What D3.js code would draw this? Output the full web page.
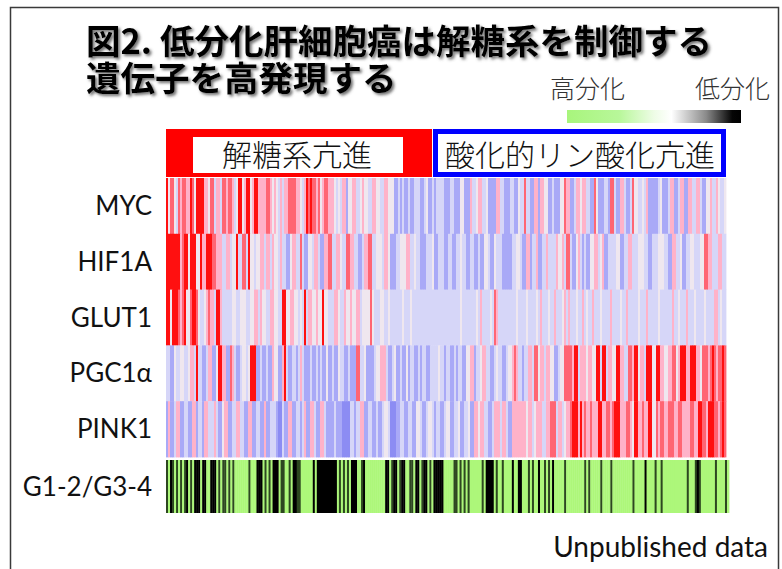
<!DOCTYPE html>
<html><head><meta charset="utf-8">
<script src="https://cdn.jsdelivr.net/npm/d3@7/dist/d3.min.js"></script>
<style>html,body{margin:0;padding:0;background:#fff;}svg{display:block;}</style>
</head><body>
<script>
// ---------- data ----------
const titleLines = ["図2. 低分化肝細胞癌は解糖系を制御する", "遺伝子を高発現する"];
const legendLabels = ["高分化", "低分化"];
const groupLabels = ["解糖系亢進", "酸化的リン酸化亢進"];
const genes = ["MYC", "HIF1A", "GLUT1", "PGC1α", "PINK1"];
const gradeLabel = "G1-2/G3-4";
const note = "Unpublished data";
// expression levels (-3 strong low ... 3 strong high), one per sample column
const MYC = [3,0,2,2,0,-1,2,1,2,2, 1,1,3,2,0,3,3,3,3,1, 1,0,2,2,-1,1,1,-1,2,2, 1,2,2,1,-1,0,3,3,0,1,
 3,3,0,1,3,3,1,1,1,1, 2,2,1,0,1,0,-1,1,-1,1, 1,2,2,2,2,1,1,0,-1,1, 3,2,3,2,2,1,2,0,1,2,
 2,1,1,1,0,-1,0,-1,1,1, -2,0,0,1,1,-1,-1,0,1,0, 0,-1,-1,1,1,0,0,-1,-1,1, 1,0,0,0,-2,-2,-1,-2,-1,-2,
 -2,-1,-2,-2,-1,-1,-1,-2,-2,-1, 0,-2,-2,-1,-2,-1,-1,-1,-1,-2, -2,-2,-1,-1,-2,-2,-2,0,0,-2, -2,-2,1,-1,-1,0,1,1,-1,-1,
 0,-2,-2,-2,-2,1,1,-1,-1,-2, -2,-2,-1,-1,-2,-2,0,-1,-1,2, -1,-1,-2,-2,1,1,-2,1,1,0, 0,-2,-2,-1,-2,-2,-2,0,0,2,
 1,1,-2,-2,-1,1,1,0,1,1, -1,-1,-2,-2,2,0,-2,-2,-2,-1, -1,-2,2,2,-1,-2,-2,1,1,-1, -2,-2,-1,2,0,0,-1,-1,0,-1,
 1,-2,-2,-2,-2,-2,-1,0,-2,-2, -2,-1,1,1,-2,-2,-1,1,1,-2, -2,1,1,-1,-1,1,1,-1,-2,-2, 0,0,1,-1,-1,1,0,-1,-1,0];
const HIF1A = [3,3,3,3,3,3,3,1,2,3, 3,0,3,3,3,0,0,3,1,1, 3,3,3,2,2,1,1,1,-1,-1, 1,1,-1,0,0,3,-1,-1,2,2,
 -1,3,0,0,-1,0,0,1,1,-1, 1,1,-1,1,0,0,-1,1,-1,-1, -2,-2,0,1,1,-1,-1,2,-1,-2, -2,0,0,-1,1,1,-1,-2,-2,1,
 1,2,2,-1,-1,1,1,0,-1,-1, 2,2,1,1,-1,-1,-2,-2,-1,1, 1,2,2,-1,-1,0,0,0,-1,1, 1,0,-2,-2,-2,-1,-1,0,0,0,
 1,1,-1,-1,0,-1,-1,-2,-2,-2, -1,-1,-1,0,-2,-2,-1,-1,-1,-2, -2,-1,-1,-2,-2,-1,-1,0,-1,-1, -2,-2,-1,-1,-2,-2,-1,-2,-2,0,
 0,-1,-2,-2,0,-1,-1,-1,-2,-2, -2,-2,-2,-1,-1,0,0,-1,-2,-2, 1,1,-2,-1,-1,1,-2,-2,-1,-1, 1,-1,-1,-1,-1,1,0,0,1,-1,
 2,2,-1,-2,-2,0,1,-1,-2,-1, -2,-2,0,0,1,1,-1,0,1,-2, -2,-1,-1,-1,-1,0,0,-2,-2,-1, -1,1,1,-1,-1,-1,0,0,0,-1,
 -1,-2,-2,-1,-1,-1,0,0,0,-1, -1,-2,-2,1,1,-1,-1,0,-2,-2, -1,-1,0,0,-1,-1,-1,0,0,2, 2,1,1,-1,-1,-1,1,1,-1,-1];
const GLUT1 = [3,3,0,3,3,3,2,1,2,3, 0,0,2,3,3,2,0,-1,-1,0, 1,2,1,1,-1,3,3,1,-1,-1, -1,-1,-1,0,0,-1,-1,0,0,0,
 -1,-1,0,0,1,1,-1,1,0,0, -1,-1,1,1,0,0,-1,-1,3,3, 0,0,1,1,0,0,-1,0,-1,3, -1,1,1,0,0,1,0,0,3,0,
 0,-1,-1,-1,1,1,0,-1,-1,1, 0,0,1,0,0,1,1,-1,0,0, 0,0,2,0,-1,-1,-1,0,0,-1, -1,0,-1,-1,-1,-1,-1,-1,0,-1,
 -1,-1,0,-1,-1,-1,-1,-1,-1,-1, -1,-1,-1,-1,-1,-1,-1,-1,-1,-1, -1,-1,-1,-1,-1,-1,-1,0,-1,-1, -1,-1,-1,-1,-1,0,-1,1,-1,-1,
 -1,-1,0,-1,2,1,-1,-1,-1,-1, -1,-1,-1,-1,-1,0,-1,-1,-1,-1, 0,-1,-1,-1,-1,0,-1,1,-1,-1, -1,0,-1,-1,1,-1,-1,-1,0,1,
 -1,1,-1,-1,-1,0,-1,-1,1,-1, 0,-1,-1,1,-1,-1,-1,0,-1,-1, -1,-1,1,-1,-1,-1,-1,0,-1,-1, 1,-1,-1,-1,-1,-1,0,-1,-1,-1,
 1,-1,-1,-1,-1,-1,0,-1,-1,-1, -1,-1,-1,1,-1,-1,0,-1,-1,-1, 1,-1,-1,-1,0,-1,-1,-1,-1,0, -1,-1,-1,-1,1,1,-1,0,-1,-1];
const PGC1A = [-1,-1,-2,-2,0,-1,-1,0,0,-1, -1,0,1,1,-1,3,-1,-1,-2,-2, -1,1,1,-2,-2,0,3,3,1,1, -2,-2,2,1,-1,-2,-2,-1,0,0,
 -1,0,3,3,3,-2,-2,-1,-2,-2, -1,-2,-2,1,0,0,-2,-2,1,3, -1,-2,-2,-1,-1,-2,-1,1,-1,-2, -2,-2,-1,-2,-2,-1,-2,-1,-2,-2,
 0,-2,-2,-1,-2,-2,0,-1,-1,-2, -2,-1,-2,-2,-2,2,2,-1,-1,0, -2,-2,-2,-2,-1,0,0,1,1,1, -1,-2,-2,-1,0,-2,-2,-1,-2,-2,
 0,-2,-1,-1,-2,-2,-1,-2,-1,-1, -2,-2,-1,-1,-1,-1,0,-1,-1,-2, -1,-1,-2,-2,-1,-2,-1,-1,-2,-2, 0,0,1,1,-2,-1,-1,0,1,1,
 -1,-1,-2,-2,-1,0,-1,-1,-2,-2, -1,0,0,1,2,1,-1,-1,-2,-1, -1,1,1,-1,2,2,0,1,1,-1, 1,1,0,0,-2,-2,-1,0,0,2,
 2,2,2,1,3,3,-1,1,1,1, 0,1,1,0,0,3,3,-1,3,3, -1,1,1,0,0,3,3,1,1,-1, -1,2,2,1,3,3,0,1,1,-1,
 3,3,3,0,0,3,3,1,1,0, 0,1,1,2,2,0,1,3,3,3, 1,1,3,3,3,1,1,0,2,2, 2,1,2,3,2,1,2,2,3,2];
const PINK1 = [-2,1,-2,-2,-1,1,1,-2,-2,-1, -1,-2,-2,1,1,-2,-1,-1,-2,1, 1,-1,-1,-1,1,-1,-2,-2,0,1, 1,-2,-2,-1,-1,1,1,-1,-1,-2,
 -2,1,1,-2,-2,-1,-1,-2,-2,1, -2,-2,-1,-1,-1,-2,-3,-3,-1,-2, -2,1,1,-2,-2,-1,-1,-2,-1,1, -2,-2,1,1,-1,-2,-2,1,1,-1,
 -2,-2,-2,-2,-1,-2,-2,-2,-3,-3, -3,-3,-1,-1,-2,-1,-1,1,1,-2, -2,-1,-1,-2,-2,-1,-2,-2,-1,0, 0,-1,-3,-3,-3,-2,-2,-1,-1,-2,
 -2,-1,-1,-2,-2,0,0,-1,-2,-2, -1,0,0,-1,-2,-1,-1,-2,-2,-1, 0,0,-2,-2,-1,-1,0,-2,-2,-1, -1,0,-2,-2,1,1,0,1,1,-1,
 -1,-2,-2,-1,1,1,1,-1,1,1, -1,-2,-2,1,1,1,1,1,1,1, 0,1,1,-1,0,1,1,1,-1,-1, 1,1,2,2,2,-1,1,1,-1,0,
 1,1,2,3,3,3,1,3,1,2, 1,1,2,1,1,1,3,3,1,1, 2,2,1,2,3,3,3,1,1,1, 2,2,1,0,3,3,1,1,2,1,
 1,3,3,0,0,2,1,2,2,1, 1,2,2,2,1,1,2,2,1,1, 1,1,2,2,1,1,3,3,2,2, 1,3,3,3,2,2,1,2,3,2];
// tumour grade per sample: 0 = G1-2, 1 = G3-4, 2 = G3-4 (narrow)
const GRADE = [2,0,1,2,0,2,0,2,0,2, 1,0,2,0,1,1,1,0,1,1, 0,0,1,1,1,0,2,0,2,2, 0,2,0,2,0,0,0,0,0,0,
 0,2,0,0,0,1,1,1,0,2, 0,2,0,1,1,1,0,2,2,0, 0,2,0,1,1,2,2,0,0,0, 0,0,0,1,0,1,1,1,1,1,
 1,1,1,1,1,0,2,0,2,0, 2,0,1,1,1,0,0,2,1,0, 0,0,0,0,0,0,0,0,0,1, 1,0,2,1,1,0,2,1,1,0,
 0,2,2,0,1,1,0,2,1,1, 0,2,0,1,1,1,1,1,0,0, 0,0,0,2,2,0,2,0,2,0, 2,0,0,0,0,0,0,2,0,1,
 1,1,1,0,2,0,0,2,0,0, 0,0,1,0,0,1,1,0,0,0, 2,0,2,0,0,1,0,0,2,0, 2,0,1,0,0,0,0,0,2,0,
 0,0,0,0,0,0,0,0,2,0, 2,0,0,0,0,0,2,0,0,0, 0,2,0,0,0,0,0,0,0,0, 0,0,2,0,0,0,0,0,1,0,
 0,0,0,2,0,0,2,0,0,0, 0,0,0,0,0,0,0,0,0,2, 0,0,0,2,1,2,0,0,0,0, 0,0,0,2,0,0,0,0,2,0];

// ---------- drawing ----------
const W = 782, H = 569;
const svg = d3.select("body").append("svg").attr("width", W).attr("height", H);
const defs = svg.append("defs");
const f = defs.append("filter").attr("id","shadow").attr("x","-10%").attr("y","-20%").attr("width","130%").attr("height","150%");
f.append("feDropShadow").attr("dx",2).attr("dy",2).attr("stdDeviation",1.6).attr("flood-color","#555").attr("flood-opacity",0.85);
const lg = defs.append("linearGradient").attr("id","grad");
[[0,"#a8f57c"],[0.3,"#b8f79a"],[0.5,"#eefce6"],[0.6,"#ffffff"],[0.8,"#8a8a8a"],[0.95,"#050505"],[1,"#000"]]
  .forEach(([o,c]) => lg.append("stop").attr("offset",o).attr("stop-color",c));

svg.append("rect").attr("width",W).attr("height",H).attr("fill","#fff");
svg.append("rect").attr("x",10.5).attr("y",7.5).attr("width",768).attr("height",580)
  .attr("fill","none").attr("stroke","#3a3a3a").attr("stroke-width",1.5);

const jp = "'Noto Sans CJK JP','Noto Sans CJK SC',sans-serif";
// two-line title as one text element
const title = svg.append("text").attr("filter","url(#shadow)")
  .attr("font-family", jp).attr("font-weight", 700).attr("font-size", 34.5).attr("fill", "#000");
title.selectAll("tspan").data(titleLines).join("tspan")
  .attr("x", 86).attr("y", (d,i) => 54 + i*37).text(d => d);

// legend
svg.selectAll("text.leg").data(legendLabels).join("text").attr("class","leg")
  .attr("x", (d,i) => i ? 770 : 625).attr("y", 98).attr("text-anchor","end")
  .attr("font-family", jp).attr("font-weight", 300).attr("font-size", 25).attr("fill","#333").text(d=>d);
svg.append("rect").attr("x",567).attr("y",110).attr("width",174).attr("height",13).attr("fill","url(#grad)");

// scales
const N = MYC.length;
const x = d3.scaleBand().domain(d3.range(N)).range([166, 726]);
const xg = d3.scaleBand().domain(d3.range(N)).range([166, 729]);
const y = d3.scaleBand().domain(genes).range([178, 457]);
const color = d3.scaleLinear().domain([-3,-2,-1,0,1,2,3])
  .range(["#8c8cf3","#a9a9f7","#d6d6f8","#efe7ef","#ffb2c9","#ff6573","#ff1010"]);
const gcolor = d3.scaleOrdinal().domain([0,1,2]).range(["#adf77a","#000000","#2d4720"]);

// group header boxes
svg.append("rect").attr("x",166).attr("y",129).attr("width",266).attr("height",48).attr("fill","#ff0000");
svg.append("rect").attr("x",193).attr("y",137).attr("width",210).attr("height",36).attr("fill","#fff");
svg.append("rect").attr("x",435.5).attr("y",131.5).attr("width",288).attr("height",43)
  .attr("fill","#fff").attr("stroke","#0000ff").attr("stroke-width",5);
svg.selectAll("text.grp").data(groupLabels).join("text").attr("class","grp")
  .attr("x",(d,i)=> i ? 580 : 297).attr("y",166).attr("text-anchor","middle")
  .attr("font-family", jp).attr("font-weight", 300).attr("font-size", 30).attr("fill","#111").text(d=>d);

// heatmap
const rows = [MYC, HIF1A, GLUT1, PGC1A, PINK1];
const hm = svg.append("g");
rows.forEach((vals, r) => {
  hm.append("g").selectAll("rect").data(vals).join("rect")
    .attr("x", (d,i) => x(i)).attr("y", y(genes[r]))
    .attr("width", x.bandwidth() + 0.4).attr("height", y.bandwidth() + 0.4)
    .attr("fill", d => color(d));
});
svg.append("g").selectAll("rect").data(GRADE).join("rect")
  .attr("x", (d,i) => xg(i)).attr("y", 460).attr("width", xg.bandwidth()+0.4).attr("height", 53)
  .attr("fill", d => gcolor(d));

// row labels
const lab = "Lato,'Open Sans',sans-serif";
svg.selectAll("text.row").data(genes).join("text").attr("class","row")
  .attr("x",152).attr("y", d => y(d) + y.bandwidth()/2 + 9).attr("text-anchor","end")
  .attr("font-family", lab).attr("font-size", 26).attr("fill","#111").text(d=>d);
svg.append("text").attr("x",152).attr("y",496).attr("text-anchor","end")
  .attr("font-family", lab).attr("font-size", 26).attr("fill","#111").text(gradeLabel);
svg.append("text").attr("x",768).attr("y",557).attr("text-anchor","end")
  .attr("font-family", lab).attr("font-size", 28).attr("fill","#111").text(note);
</script>
</body></html>
